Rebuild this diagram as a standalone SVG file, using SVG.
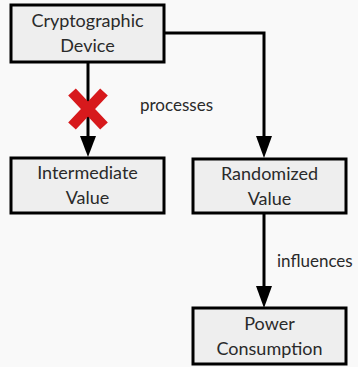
<svg xmlns="http://www.w3.org/2000/svg" width="358" height="367" viewBox="0 0 358 367">
<style>
.box{fill:#eeeeee;stroke:#000;stroke-width:3}
.t{font-family:Lato,"Liberation Sans",sans-serif;font-size:18px;fill:#2a2a2a;text-anchor:middle}
.l{font-family:Lato,"Liberation Sans",sans-serif;font-size:17px;fill:#2a2a2a}
.c{fill:none;stroke:#000;stroke-width:3}
</style>
<rect width="358" height="367" fill="#f9f9f9"/>
<g id="connectors">
<path class="c" d="M88,62 V140" />
<polygon points="80,136 96,136 88,157" fill="#000"/>
<path class="c" d="M164,33 H264 V138" />
<polygon points="256,136 272,136 264,158" fill="#000"/>
<path class="c" d="M264,213 V288" />
<polygon points="256,286 272,286 264,308" fill="#000"/>
<path d="M72,92 L104,126 M104,92 L72,126" stroke="#d7191c" stroke-width="10.5" fill="none"/>
<text class="l" x="140" y="111">processes</text>
<text class="l" x="277" y="267">influences</text>
</g>
<g id="crypto">
<rect class="box" x="11" y="5" width="153" height="57"/>
<text class="t" x="87.5" y="27">Cryptographic</text>
<text class="t" x="87.5" y="52">Device</text>
</g>
<g id="intermediate">
<rect class="box" x="11" y="158" width="153" height="55"/>
<text class="t" x="87.5" y="179">Intermediate</text>
<text class="t" x="87.5" y="204">Value</text>
</g>
<g id="randomized">
<rect class="box" x="193" y="159" width="153" height="54"/>
<text class="t" x="269.5" y="180">Randomized</text>
<text class="t" x="269.5" y="205">Value</text>
</g>
<g id="power">
<rect class="box" x="193" y="308" width="153" height="56"/>
<text class="t" x="269.5" y="330">Power</text>
<text class="t" x="269.5" y="355">Consumption</text>
</g>
</svg>
